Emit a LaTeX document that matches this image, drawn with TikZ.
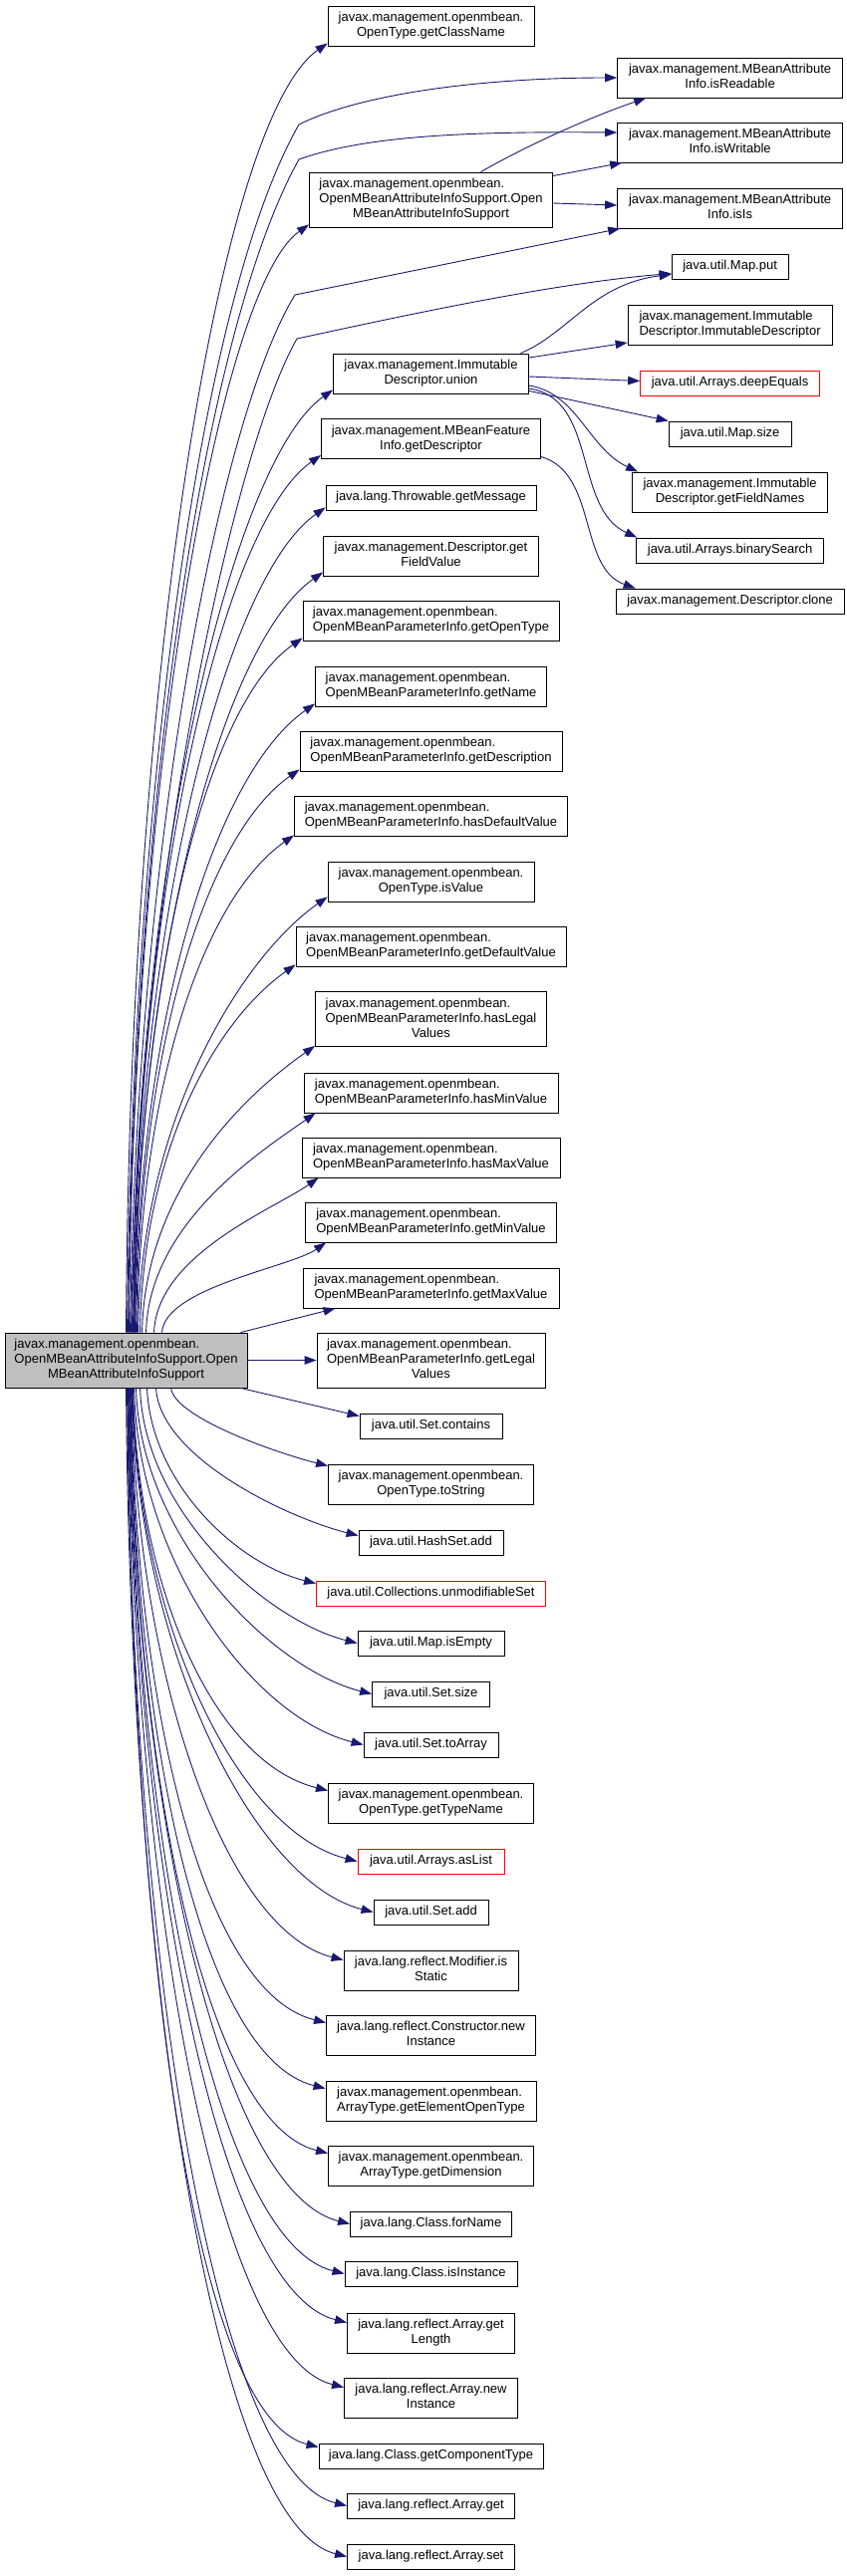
\documentclass[tikz,border=0pt]{standalone}
\usepackage{fontspec}
\setmainfont{Liberation Sans}
\usetikzlibrary{arrows.meta,calc}
\definecolor{edgec}{HTML}{191970}
\definecolor{mainfill}{HTML}{BFBFBF}
\newcommand\TwoL[2]{\begin{tabular}{@{}l@{}}#1\\\multicolumn{1}{@{}c@{}}{#2}\end{tabular}}
\newcommand\ThreeL[3]{\begin{tabular}{@{}l@{}}#1\\#2\\\multicolumn{1}{@{}c@{}}{#3}\end{tabular}}
\newcommand\UpLink[6]{\draw[link] ($(main.north west)+(#1,0)$) .. controls ($(main.north west)+(#1+3,-#3)$) and ($(#2.south west)+(#5-#4,-#6+0.7*#4)$) .. ($(#2.south west)+(#5,-#6)$);}
\newcommand\DnLink[6]{\draw[link] ($(main.south west)+(#1,0)$) .. controls ($(main.south west)+(#1+4,#3)$) and ($(#2.#5)+(-#4,#6-0.25*#4)$) .. ($(#2.#5)+(0,#6)$);}
\tikzset{
  nbox/.style={draw=black, line width=0.9pt, fill=white, rectangle, inner sep=0pt, font=\fontsize{13}{15}\selectfont},
  redbox/.style={nbox, draw=red},
  link/.style={draw=edgec, line width=0.9pt, -{Triangle[length=12pt,width=8.5pt]}}
}
\begin{document}
\begin{tikzpicture}[x=1pt,y=-1pt]
\useasboundingbox (0,0) rectangle (849,2586);
% main node
\node[nbox,fill=mainfill,minimum width=243pt,minimum height=55pt] (main) at (126.5,1365.5) {\ThreeL{javax.management.openmbean.}{OpenMBeanAttributeInfoSupport.Open}{MBeanAttributeInfoSupport}};
% column 2
\node[nbox,minimum width=207pt,minimum height=40pt] (gcn) at (432.5,26) {\TwoL{javax.management.openmbean.}{OpenType.getClassName}};
\node[nbox,minimum width=244pt,minimum height=55pt] (oma2) at (432.5,200.5) {\ThreeL{javax.management.openmbean.}{OpenMBeanAttributeInfoSupport.Open}{MBeanAttributeInfoSupport}};
\node[nbox,minimum width=196pt,minimum height=40pt] (union) at (432.5,375) {\TwoL{javax.management.Immutable}{Descriptor.union}};
\node[nbox,minimum width=220pt,minimum height=40pt] (gdesc) at (432.5,440.5) {\TwoL{javax.management.MBeanFeature}{Info.getDescriptor}};
\node[nbox,minimum width=211pt,minimum height=25pt] (gmsg) at (432.5,499.5) {java.lang.Throwable.getMessage};
\node[nbox,minimum width=216pt,minimum height=40pt] (gfv) at (432.5,558) {\TwoL{javax.management.Descriptor.get}{FieldValue}};
\node[nbox,minimum width=257pt,minimum height=40pt] (got) at (432.5,623) {\TwoL{javax.management.openmbean.}{OpenMBeanParameterInfo.getOpenType}};
\node[nbox,minimum width=232pt,minimum height=40pt] (gname) at (432.5,689) {\TwoL{javax.management.openmbean.}{OpenMBeanParameterInfo.getName}};
\node[nbox,minimum width=263pt,minimum height=40pt] (gdescr) at (432.5,754) {\TwoL{javax.management.openmbean.}{OpenMBeanParameterInfo.getDescription}};
\node[nbox,minimum width=274pt,minimum height=40pt] (hdv) at (432.5,819) {\TwoL{javax.management.openmbean.}{OpenMBeanParameterInfo.hasDefaultValue}};
\node[nbox,minimum width=207pt,minimum height=40pt] (isval) at (432.5,885) {\TwoL{javax.management.openmbean.}{OpenType.isValue}};
\node[nbox,minimum width=271pt,minimum height=40pt] (gdv) at (432.5,950) {\TwoL{javax.management.openmbean.}{OpenMBeanParameterInfo.getDefaultValue}};
\node[nbox,minimum width=232pt,minimum height=55pt] (hlv) at (432.5,1023) {\ThreeL{javax.management.openmbean.}{OpenMBeanParameterInfo.hasLegal}{Values}};
\node[nbox,minimum width=255pt,minimum height=40pt] (hmin) at (432.5,1097) {\TwoL{javax.management.openmbean.}{OpenMBeanParameterInfo.hasMinValue}};
\node[nbox,minimum width=259pt,minimum height=40pt] (hmax) at (432.5,1162) {\TwoL{javax.management.openmbean.}{OpenMBeanParameterInfo.hasMaxValue}};
\node[nbox,minimum width=252pt,minimum height=40pt] (gmin) at (432.5,1227) {\TwoL{javax.management.openmbean.}{OpenMBeanParameterInfo.getMinValue}};
\node[nbox,minimum width=257pt,minimum height=40pt] (gmax) at (432.5,1293) {\TwoL{javax.management.openmbean.}{OpenMBeanParameterInfo.getMaxValue}};
\node[nbox,minimum width=229pt,minimum height=55pt] (glv) at (432.5,1365.5) {\ThreeL{javax.management.openmbean.}{OpenMBeanParameterInfo.getLegal}{Values}};
\node[nbox,minimum width=143pt,minimum height=25pt] (scont) at (432.5,1431.5) {java.util.Set.contains};
\node[nbox,minimum width=206pt,minimum height=40pt] (tostr) at (432.5,1490) {\TwoL{javax.management.openmbean.}{OpenType.toString}};
\node[nbox,minimum width=145pt,minimum height=25pt] (hsadd) at (432.5,1548.5) {java.util.HashSet.add};
\node[redbox,minimum width=230pt,minimum height=25pt] (unmod) at (432.5,1599.5) {java.util.Collections.unmodifiableSet};
\node[nbox,minimum width=147pt,minimum height=25pt] (misempty) at (432.5,1649.5) {java.util.Map.isEmpty};
\node[nbox,minimum width=118pt,minimum height=25pt] (ssize) at (432.5,1700.5) {java.util.Set.size};
\node[nbox,minimum width=135pt,minimum height=25pt] (sarr) at (432.5,1751.5) {java.util.Set.toArray};
\node[nbox,minimum width=206pt,minimum height=40pt] (gtn) at (432.5,1810) {\TwoL{javax.management.openmbean.}{OpenType.getTypeName}};
\node[redbox,minimum width=147pt,minimum height=25pt] (aslist) at (432.5,1868.5) {java.util.Arrays.asList};
\node[nbox,minimum width=115pt,minimum height=25pt] (sadd) at (432.5,1919.5) {java.util.Set.add};
\node[nbox,minimum width=175pt,minimum height=40pt] (isstatic) at (432.5,1978) {\TwoL{java.lang.reflect.Modifier.is}{Static}};
\node[nbox,minimum width=210pt,minimum height=40pt] (cnew) at (432.5,2043) {\TwoL{java.lang.reflect.Constructor.new}{Instance}};
\node[nbox,minimum width=211pt,minimum height=40pt] (geot) at (432.5,2109) {\TwoL{javax.management.openmbean.}{ArrayType.getElementOpenType}};
\node[nbox,minimum width=206pt,minimum height=40pt] (gdim) at (432.5,2174) {\TwoL{javax.management.openmbean.}{ArrayType.getDimension}};
\node[nbox,minimum width=162pt,minimum height=25pt] (forname) at (432.5,2232.5) {java.lang.Class.forName};
\node[nbox,minimum width=173pt,minimum height=25pt] (isinst) at (432.5,2282.5) {java.lang.Class.isInstance};
\node[nbox,minimum width=168pt,minimum height=40pt] (glen) at (432.5,2342) {\TwoL{java.lang.reflect.Array.get}{Length}};
\node[nbox,minimum width=174pt,minimum height=40pt] (anew) at (432.5,2407) {\TwoL{java.lang.reflect.Array.new}{Instance}};
\node[nbox,minimum width=225pt,minimum height=25pt] (gct) at (432.5,2465.5) {java.lang.Class.getComponentType};
\node[nbox,minimum width=168pt,minimum height=25pt] (aget) at (432.5,2515.5) {java.lang.reflect.Array.get};
\node[nbox,minimum width=168pt,minimum height=25pt] (aset) at (432.5,2566.5) {java.lang.reflect.Array.set};
% column 3
\node[nbox,minimum width=226pt,minimum height=40pt] (isread) at (732.6,78) {\TwoL{javax.management.MBeanAttribute}{Info.isReadable}};
\node[nbox,minimum width=226pt,minimum height=40pt] (iswrite) at (732.6,143) {\TwoL{javax.management.MBeanAttribute}{Info.isWritable}};
\node[nbox,minimum width=226pt,minimum height=40pt] (isis) at (732.6,209) {\TwoL{javax.management.MBeanAttribute}{Info.isIs}};
\node[nbox,minimum width=117pt,minimum height=25pt] (mput) at (732.6,267.5) {java.util.Map.put};
\node[nbox,minimum width=205pt,minimum height=40pt] (imdesc) at (732.6,326) {\TwoL{javax.management.Immutable}{Descriptor.ImmutableDescriptor}};
\node[redbox,minimum width=180pt,minimum height=25pt] (deq) at (732.6,384.5) {java.util.Arrays.deepEquals};
\node[nbox,minimum width=123pt,minimum height=25pt] (msize) at (732.6,435.5) {java.util.Map.size};
\node[nbox,minimum width=196pt,minimum height=40pt] (gfn) at (732.6,494) {\TwoL{javax.management.Immutable}{Descriptor.getFieldNames}};
\node[nbox,minimum width=188pt,minimum height=25pt] (bsearch) at (732.6,552.5) {java.util.Arrays.binarySearch};
\node[nbox,minimum width=229pt,minimum height=25pt] (dclone) at (732.6,603.5) {javax.management.Descriptor.clone};
% upward edges from main
\UpLink{122}{gcn}{650}{110}{0}{3}
\UpLink{125}{oma2}{555}{90}{0}{3}
\UpLink{128}{union}{471}{100}{0}{4}
\UpLink{129}{gdesc}{439}{100}{0}{4}
\UpLink{129.5}{gmsg}{413}{100}{0}{3}
\UpLink{130}{gfv}{380}{100}{0}{4}
\UpLink{130.5}{got}{347}{100}{0}{3}
\UpLink{131}{gname}{314}{100}{0}{3}
\UpLink{132}{gdescr}{282}{95}{0}{2}
\UpLink{133}{hdv}{250}{90}{0}{1}
\UpLink{134}{isval}{216}{85}{0}{5}
\UpLink{136}{gdv}{184}{80}{0}{2}
\UpLink{138}{hlv}{144}{70}{0}{1}
\UpLink{142}{hmin}{110}{55}{12}{0}
\UpLink{150}{hmax}{78}{45}{17}{0}
\UpLink{158}{gmin}{45}{35}{21}{0}
\draw[link] ($(main.north west)+(237,0)$) -- ($(gmax.south west)+(33,0)$);
\draw[link] (main.east) -- (glv.west);
% main to column 3
\draw[link] ($(main.north west)+(123,0)$) .. controls (133,800) and (200,300) .. (300,125) .. controls (360,95) and (480,78) .. (isread.west);
\draw[link] ($(main.north west)+(124,0)$) .. controls (134,800) and (205,330) .. (300,160) .. controls (370,135) and (480,132) .. ($(iswrite.west)+(0,-10)$);
\draw[link] ($(main.north west)+(126,0)$) .. controls (137,850) and (220,420) .. (296,296) -- ($(isis.south west)+(3,0)$);
\draw[link] ($(main.north west)+(127,0)$) .. controls (139,880) and (235,450) .. (298,340) .. controls (400,318) and (550,285) .. ($(mput.west)+(0,7)$);
% downward edges from main
\draw[link] ($(main.south west)+(237,0)$) -- ($(scont.north west)+(0,3)$);
\DnLink{167}{tostr}{30}{50}{north west}{2}
\DnLink{152}{hsadd}{70}{70}{north west}{6}
\DnLink{143}{unmod}{95}{80}{north west}{3}
\DnLink{136}{misempty}{125}{90}{west}{0}
\DnLink{132}{ssize}{150}{100}{west}{0}
\DnLink{130}{sarr}{175}{110}{west}{0}
\DnLink{129}{gtn}{200}{115}{north west}{8}
\DnLink{128.5}{aslist}{235}{120}{west}{0}
\DnLink{128}{sadd}{260}{120}{west}{0}
\DnLink{127.5}{isstatic}{285}{120}{north west}{10}
\DnLink{127}{cnew}{315}{125}{north west}{8}
\DnLink{126.5}{geot}{350}{125}{north west}{8}
\DnLink{126}{gdim}{380}{125}{north west}{8}
\DnLink{125.5}{forname}{415}{130}{west}{0}
\DnLink{125}{isinst}{440}{130}{west}{0}
\DnLink{124.5}{glen}{465}{130}{north west}{10}
\DnLink{124}{anew}{500}{130}{north west}{10}
\DnLink{123.5}{gct}{530}{130}{north west}{4}
\DnLink{123}{aget}{560}{135}{west}{0}
\DnLink{122}{aset}{585}{135}{west}{0}
% second-level edges
\draw[link] ($(oma2.north)+(50,0)$) .. controls (540,140) and (600,115) .. ($(isread.south west)+(29,0)$);
\draw[link] ($(oma2.north east)+(0,4)$) -- ($(iswrite.south west)+(5,0)$);
\draw[link] ($(oma2.east)+(0,3.5)$) -- ($(isis.west)+(0,-3)$);
\draw[link] ($(union.north)+(90,0)$) .. controls (570,335) and (595,285) .. ($(mput.west)+(0,8)$);
\draw[link] ($(union.east)+(0,-16)$) -- ($(imdesc.west)+(0,18)$);
\draw[link] ($(union.east)+(0,3)$) -- ($(deq.west)+(0,-2)$);
\draw[link] ($(union.south east)+(0,-3)$) -- (msize.north west);
\draw[link] ($(union.east)+(0,12)$) .. controls (580,395) and (590,450) .. ($(gfn.north west)+(6,0)$);
\draw[link] ($(union.east)+(0,15)$) .. controls (600,400) and (575,510) .. ($(bsearch.north west)+(1,0)$);
\draw[link] ($(gdesc.east)+(0,18)$) .. controls (600,475) and (580,570) .. ($(dclone.north west)+(20,0)$);
\end{tikzpicture}
\end{document}
